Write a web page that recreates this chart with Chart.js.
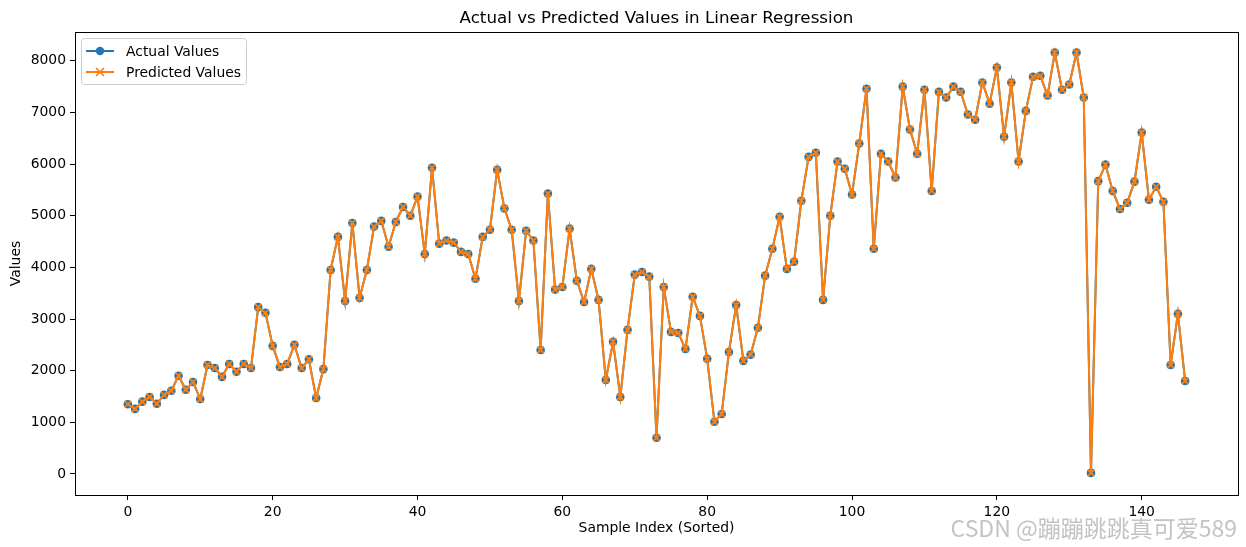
<!DOCTYPE html>
<html>
<head>
<meta charset="utf-8">
<script src="https://cdn.jsdelivr.net/npm/chart.js@4/dist/chart.umd.min.js"></script>
<style>
  html, body { margin: 0; padding: 0; background: #fff; overflow: hidden; }
  #grafico { display: block; }
</style>
</head>
<body>
<canvas id="grafico" width="1246" height="547"></canvas>
<script>
// Valores (indice 0..146)
const actualValues = [
  1350, 1260, 1400, 1490, 1360, 1530, 1610, 1900, 1630, 1780,
  1450, 2110, 2050, 1880, 2130, 1980, 2130, 2050, 3230, 3120,
  2480, 2070, 2130, 2500, 2050, 2220, 1470, 2030, 3950, 4590,
  3350, 4860, 3410, 3950, 4790, 4900, 4400, 4880, 5170, 5000,
  5370, 4260, 5930, 4460, 4520, 4480, 4300, 4260, 3780, 4590,
  4730, 5890, 5140, 4730, 3350, 4710, 4520, 2400, 5430, 3570,
  3620, 4750, 3740, 3330, 3970, 3370, 1820, 2560, 1490, 2790,
  3860, 3910, 3820, 700, 3620, 2750, 2730, 2420, 3430, 3060,
  2230, 1010, 1160, 2360, 3270, 2190, 2310, 2830, 3840, 4360,
  4980, 3970, 4110, 5290, 6140, 6220, 3370, 5000, 6050, 5910,
  5410, 6400, 7460, 4360, 6200, 6050, 5740, 7500, 6670, 6200,
  7440, 5480, 7400, 7290, 7500, 7400, 6960, 6860, 7580, 7170,
  7870, 6530, 7580, 6050, 7030, 7690, 7710, 7330, 8160, 7440,
  7540, 8160, 7290, 20, 5670, 5990, 5480, 5130, 5250, 5660,
  6610, 5310, 5560, 5270, 2110, 3100, 1800
];

const predictedValues = [
  1350, 1260, 1400, 1490, 1360, 1530, 1610, 1900, 1630, 1780,
  1450, 2110, 2050, 1880, 2130, 1980, 2130, 2050, 3230, 3120,
  2480, 2070, 2130, 2500, 2050, 2220, 1470, 2030, 3950, 4590,
  3350, 4860, 3410, 3950, 4790, 4900, 4400, 4880, 5170, 5000,
  5370, 4260, 5930, 4460, 4520, 4480, 4300, 4260, 3780, 4590,
  4730, 5890, 5140, 4730, 3350, 4710, 4520, 2400, 5430, 3570,
  3620, 4750, 3740, 3330, 3970, 3370, 1820, 2560, 1490, 2790,
  3860, 3910, 3820, 700, 3620, 2750, 2730, 2420, 3430, 3060,
  2230, 1010, 1160, 2360, 3270, 2190, 2310, 2830, 3840, 4360,
  4980, 3970, 4110, 5290, 6140, 6220, 3370, 5000, 6050, 5910,
  5410, 6400, 7460, 4360, 6200, 6050, 5740, 7500, 6670, 6200,
  7440, 5480, 7400, 7290, 7500, 7400, 6960, 6860, 7580, 7170,
  7870, 6530, 7580, 6050, 7030, 7690, 7710, 7330, 8160, 7440,
  7540, 8160, 7290, 20, 5670, 5990, 5480, 5130, 5250, 5660,
  6610, 5310, 5560, 5270, 2110, 3100, 1800
];

const xTicks = [0, 20, 40, 60, 80, 100, 120, 140];
const yTicks = [0, 1000, 2000, 3000, 4000, 5000, 6000, 7000, 8000];
const seriesNames = ['Actual Values', 'Predicted Values'];

const AZUL = '#1f77b4';
const NARANJA = '#ff7f0e';
const FUENTE = "'DejaVu Sans', sans-serif";

const toPoints = arr => arr.map((v, i) => ({ x: i, y: v }));

// Marco, titulo, leyenda y marca de agua
const decoracion = {
  id: 'decoracion',
  afterDraw(chart) {
    const { ctx, chartArea: a } = chart;
    ctx.save();
    ctx.strokeStyle = '#000';
    ctx.lineWidth = 1;
    ctx.strokeRect(Math.round(a.left) + 0.5, Math.round(a.top) + 0.5,
                   Math.round(a.right - a.left), Math.round(a.bottom - a.top));

    // titulo
    ctx.fillStyle = '#000';
    ctx.font = '16.7px ' + FUENTE;
    ctx.textAlign = 'center';
    ctx.textBaseline = 'middle';
    ctx.fillText('Actual vs Predicted Values in Linear Regression', (a.left + a.right) / 2, 18.5);

    // leyenda
    const lx = a.left + 6, ly = a.top + 6, lw = 165, lh = 46;
    ctx.beginPath();
    ctx.roundRect(lx + 0.5, ly + 0.5, lw, lh, 3);
    ctx.fillStyle = 'rgba(255,255,255,0.8)';
    ctx.fill();
    ctx.strokeStyle = '#cccccc';
    ctx.stroke();

    const filas = [ly + 13, ly + 34];
    [AZUL, NARANJA].forEach((color, k) => {
      const y = filas[k];
      ctx.strokeStyle = color;
      ctx.lineWidth = 2;
      ctx.beginPath();
      ctx.moveTo(lx + 5, y);
      ctx.lineTo(lx + 33, y);
      ctx.stroke();
      const cx = lx + 19;
      if (k === 0) {
        ctx.fillStyle = color;
        ctx.beginPath();
        ctx.arc(cx, y, 4.2, 0, Math.PI * 2);
        ctx.fill();
      } else {
        ctx.lineWidth = 1.6;
        ctx.beginPath();
        ctx.moveTo(cx - 4, y - 4); ctx.lineTo(cx + 4, y + 4);
        ctx.moveTo(cx - 4, y + 4); ctx.lineTo(cx + 4, y - 4);
        ctx.stroke();
      }
      ctx.fillStyle = '#000';
      ctx.font = '13.9px ' + FUENTE;
      ctx.textAlign = 'left';
      ctx.fillText(seriesNames[k], lx + 45, y + 1);
    });

    // marca de agua
    ctx.font = "23px 'Noto Sans CJK SC', 'DejaVu Sans', sans-serif";
    ctx.fillStyle = 'rgba(175,175,175,0.75)';
    ctx.textAlign = 'right';
    ctx.textBaseline = 'alphabetic';
    ctx.fillText('CSDN @蹦蹦跳跳真可爱589', 1237, 537);
    ctx.restore();
  }
};

const ctx = document.getElementById('grafico').getContext('2d');
new Chart(ctx, {
  type: 'line',
  data: {
    datasets: [
      {
        label: seriesNames[0],
        data: toPoints(actualValues),
        borderColor: AZUL,
        backgroundColor: AZUL,
        borderWidth: 2,
        pointStyle: 'circle',
        pointRadius: 4.3,
        pointBorderWidth: 0,
        pointBackgroundColor: AZUL,
        tension: 0,
        order: 2
      },
      {
        label: seriesNames[1],
        data: toPoints(predictedValues),
        borderColor: NARANJA,
        backgroundColor: NARANJA,
        borderWidth: 2,
        pointStyle: 'crossRot',
        pointRadius: 4.6,
        pointBorderWidth: 1.8,
        pointBorderColor: NARANJA,
        tension: 0,
        order: 1
      }
    ]
  },
  options: {
    responsive: false,
    animation: false,
    devicePixelRatio: 1,
    layout: { padding: { top: 32, right: 8, left: 0, bottom: 0 } },
    plugins: {
      legend: { display: false },
      tooltip: { enabled: false },
      title: { display: false }
    },
    scales: {
      x: {
        type: 'linear',
        min: -7.3,
        max: 153.3,
        afterBuildTicks: s => { s.ticks = xTicks.map(v => ({ value: v })); },
        afterFit: s => { s.height = 52; },
        grid: { drawOnChartArea: false, drawTicks: true, tickLength: 5, color: '#000' },
        border: { display: false },
        ticks: {
          color: '#000', padding: 4, maxRotation: 0, autoSkip: false,
          callback: v => String(v),
          font: { family: FUENTE, size: 13.9 }
        },
        title: {
          display: true, text: 'Sample Index (Sorted)', color: '#000',
          font: { family: FUENTE, size: 13.9 }, padding: { top: 0, bottom: 10 }
        }
      },
      y: {
        type: 'linear',
        min: -408,
        max: 8558,
        afterBuildTicks: s => { s.ticks = yTicks.map(v => ({ value: v })); },
        afterFit: s => { s.width = 75; },
        grid: { drawOnChartArea: false, drawTicks: true, tickLength: 5, color: '#000' },
        border: { display: false },
        ticks: {
          color: '#000', padding: 4, autoSkip: false,
          callback: v => String(v),
          font: { family: FUENTE, size: 13.9 }
        },
        title: {
          display: true, text: 'Values', color: '#000',
          font: { family: FUENTE, size: 13.9 }, padding: { top: 8, bottom: 0 }
        }
      }
    }
  },
  plugins: [decoracion]
});
</script>
</body>
</html>
